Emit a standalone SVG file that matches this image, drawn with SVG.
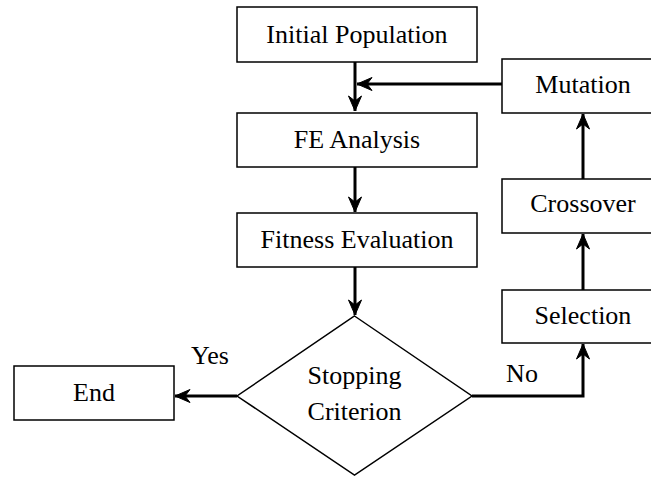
<svg xmlns="http://www.w3.org/2000/svg" width="651" height="477" viewBox="0 0 651 477">
  <style>
    .box { fill: #fff; stroke: #000; stroke-width: 1.5; }
    .lbl { font-family: "Liberation Serif", "Times New Roman", serif; font-size: 26px; fill: #000; text-anchor: middle; }
    .edge { fill: none; stroke: #000; stroke-width: 3; }
  </style>
  <defs>
    <marker id="arrow" viewBox="-16 -8 17 16" refX="0" refY="0" markerWidth="17" markerHeight="16" markerUnits="userSpaceOnUse" orient="auto">
      <path d="M0,0 L-15,-6.5 L-10,0 L-15,6.5 Z" fill="#000" stroke="#000" stroke-width="1" stroke-linejoin="miter"/>
    </marker>
  </defs>

  <g id="connectors">
    <!-- main downward flow -->
    <path class="edge" d="M355,62 V111" marker-end="url(#arrow)"/>
    <path class="edge" d="M355,167 V212" marker-end="url(#arrow)"/>
    <path class="edge" d="M355,267 V315" marker-end="url(#arrow)"/>
    <!-- feedback from Mutation -->
    <path class="edge" d="M502,84 H357" marker-end="url(#arrow)"/>
    <!-- Yes branch -->
    <path class="edge" d="M237,396 H175" marker-end="url(#arrow)"/>
    <!-- No branch -->
    <path class="edge" d="M472,396 H583 V344" marker-end="url(#arrow)"/>
    <path class="edge" d="M583,290 V234" marker-end="url(#arrow)"/>
    <path class="edge" d="M583,179 V114" marker-end="url(#arrow)"/>
  </g>

  <g id="initial-population">
    <rect class="box" x="237" y="7" width="240" height="55"/>
    <text class="lbl" x="357" y="43">Initial Population</text>
  </g>
  <g id="fe-analysis">
    <rect class="box" x="237" y="113" width="240" height="54"/>
    <text class="lbl" x="357" y="148">FE Analysis</text>
  </g>
  <g id="fitness-evaluation">
    <rect class="box" x="237" y="213" width="240" height="54"/>
    <text class="lbl" x="357" y="248">Fitness Evaluation</text>
  </g>
  <g id="stopping-criterion">
    <polygon class="box" points="354.5,316 472,396 354.5,475 237,396"/>
    <text class="lbl" x="354.5" y="384">Stopping</text>
    <text class="lbl" x="354.5" y="420">Criterion</text>
  </g>
  <g id="end">
    <rect class="box" x="14" y="366" width="160" height="54"/>
    <text class="lbl" x="94" y="401">End</text>
  </g>
  <g id="selection">
    <rect class="box" x="502" y="290" width="162" height="53"/>
    <text class="lbl" x="583" y="324">Selection</text>
  </g>
  <g id="crossover">
    <rect class="box" x="502" y="179" width="162" height="54"/>
    <text class="lbl" x="583" y="212">Crossover</text>
  </g>
  <g id="mutation">
    <rect class="box" x="502" y="59" width="162" height="54"/>
    <text class="lbl" x="583" y="93">Mutation</text>
  </g>

  <g id="edge-labels">
    <text class="lbl" x="210" y="364">Yes</text>
    <text class="lbl" x="522" y="382">No</text>
  </g>
</svg>
